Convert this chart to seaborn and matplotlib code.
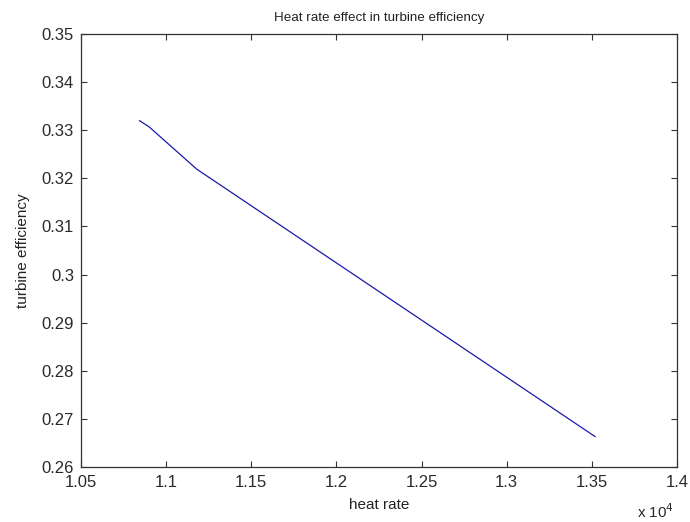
import matplotlib
matplotlib.use("Agg")
import matplotlib.pyplot as plt
import seaborn as sns
import pandas as pd

# Data
heat_rate = [10843, 10900, 11180, 13520]
efficiency = [0.3320, 0.3307, 0.3219, 0.2663]

x_ticks = [10500, 11000, 11500, 12000, 12500, 13000, 13500, 14000]
x_tick_labels = ["1.05", "1.1", "1.15", "1.2", "1.25", "1.3", "1.35", "1.4"]
y_ticks = [0.26, 0.27, 0.28, 0.29, 0.30, 0.31, 0.32, 0.33, 0.34, 0.35]
y_tick_labels = ["0.26", "0.27", "0.28", "0.29", "0.3", "0.31", "0.32", "0.33", "0.34", "0.35"]

title = "Heat rate effect in turbine efficiency"
x_label = "heat rate"
y_label = "turbine efficiency"

sns.set_style("white")
plt.rcParams["font.family"] = ["Liberation Sans", "DejaVu Sans"]

df = pd.DataFrame({"heat rate": heat_rate, "turbine efficiency": efficiency})

fig = plt.figure(figsize=(6.9, 5.22), dpi=100)
ax = fig.add_axes([81 / 690, 55 / 522, 596 / 690, 433 / 522])

sns.lineplot(data=df, x="heat rate", y="turbine efficiency", ax=ax,
             sort=False, estimator=None, color="#1a1aa8", linewidth=0.9)

ax.set_xlim(10500, 14000)
ax.set_ylim(0.26, 0.35)
ax.set_xticks(x_ticks)
ax.set_xticklabels(x_tick_labels)
ax.set_yticks(y_ticks)
ax.set_yticklabels(y_tick_labels)

for s in ax.spines.values():
    s.set_visible(True)
    s.set_color("#333333")
    s.set_linewidth(0.9)

ax.tick_params(axis="both", which="both", direction="in", length=4.5,
               width=0.8, colors="#333333", labelcolor="#2a2a2a",
               labelsize=12, top=True, right=True, bottom=True, left=True)
ax.tick_params(axis="x", pad=5.5)
ax.tick_params(axis="y", pad=5)

ax.set_title(title, fontsize=9.6, color="#222222", pad=9)
ax.set_xlabel(x_label, fontsize=11, color="#222222", labelpad=6)
ax.set_ylabel(y_label, fontsize=11, color="#222222", labelpad=8)

fig.text(656 / 690, 1 - 512 / 522, "x 10$^{4}$", fontsize=11,
         color="#2a2a2a", ha="center", va="center")

fig.savefig("out.png", dpi=100, facecolor="white")
